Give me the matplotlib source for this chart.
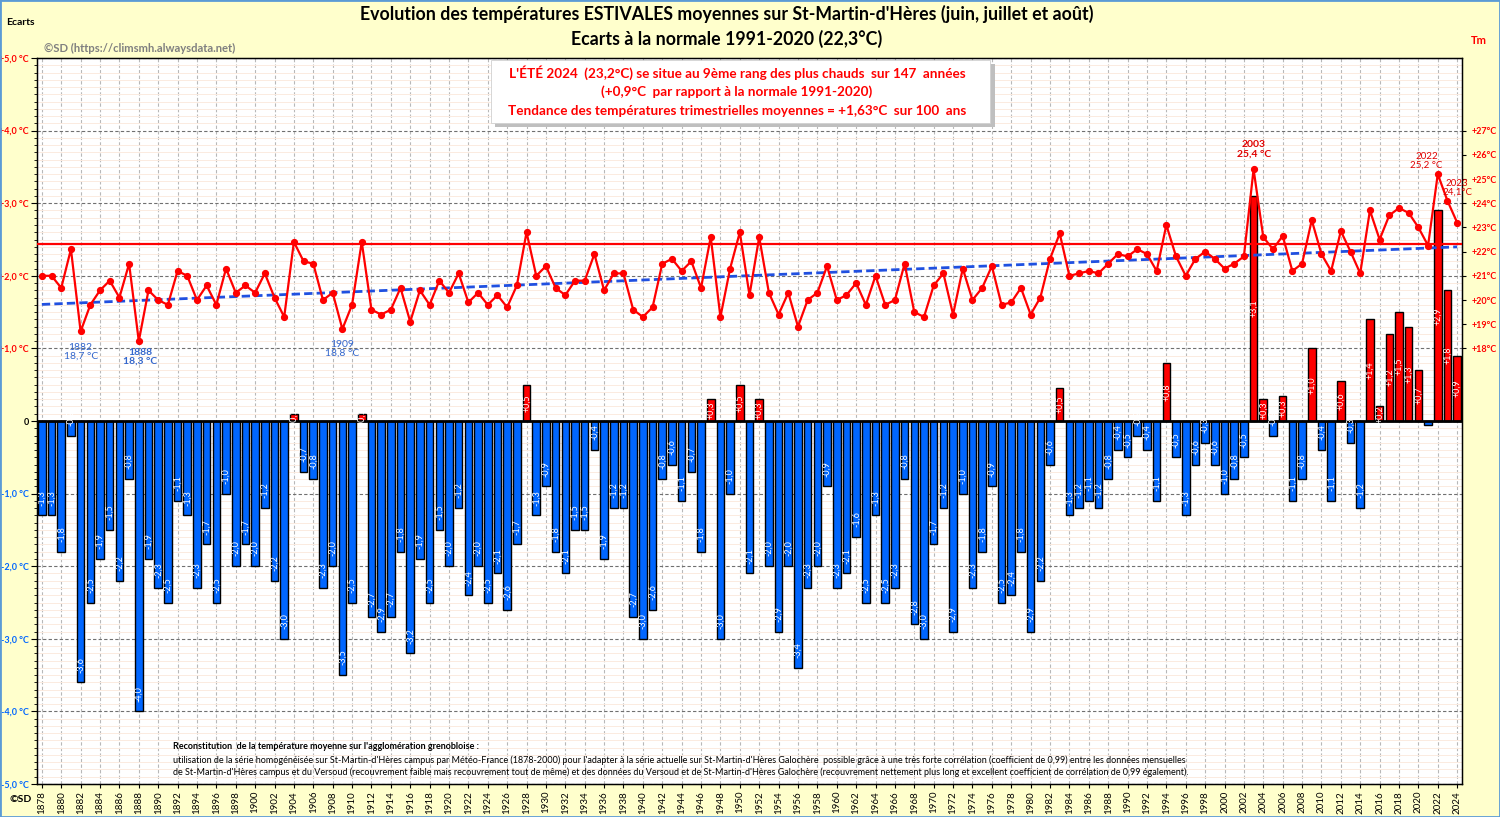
import matplotlib
matplotlib.use("Agg")
import matplotlib.pyplot as plt
import matplotlib.patches as mpatches
from matplotlib.ticker import MultipleLocator
import numpy as np

plt.rcParams["font.family"] = ["Lato", "DejaVu Sans"]

NORMAL = 22.3
years = np.arange(1878, 2025)
anomalies = [
    -1.3, -1.3, -1.8, -0.2, -3.6, -2.5, -1.9, -1.5, -2.2, -0.8,   # 1878-1887
    -4.0, -1.9, -2.3, -2.5, -1.1, -1.3, -2.3, -1.7, -2.5, -1.0,   # 1888-1897
    -2.0, -1.7, -2.0, -1.2, -2.2, -3.0, 0.1, -0.7, -0.8, -2.3,    # 1898-1907
    -2.0, -3.5, -2.5, 0.1, -2.7, -2.9, -2.7, -1.8, -3.2, -1.9,    # 1908-1917
    -2.5, -1.5, -2.0, -1.2, -2.4, -2.0, -2.5, -2.1, -2.6, -1.7,   # 1918-1927
    0.5, -1.3, -0.9, -1.8, -2.1, -1.5, -1.5, -0.4, -1.9, -1.2,    # 1928-1937
    -1.2, -2.7, -3.0, -2.6, -0.8, -0.6, -1.1, -0.7, -1.8, 0.3,    # 1938-1947
    -3.0, -1.0, 0.5, -2.1, 0.3, -2.0, -2.9, -2.0, -3.4, -2.3,     # 1948-1957
    -2.0, -0.9, -2.3, -2.1, -1.6, -2.5, -1.3, -2.5, -2.3, -0.8,   # 1958-1967
    -2.8, -3.0, -1.7, -1.2, -2.9, -1.0, -2.3, -1.8, -0.9, -2.5,   # 1968-1977
    -2.4, -1.8, -2.9, -2.2, -0.6, 0.45, -1.3, -1.2, -1.1, -1.2,   # 1978-1987
    -0.8, -0.4, -0.5, -0.2, -0.4, -1.1, 0.8, -0.5, -1.3, -0.6,    # 1988-1997
    -0.3, -0.6, -1.0, -0.8, -0.5, 3.1, 0.3, -0.2, 0.35, -1.1,     # 1998-2007
    -0.8, 1.0, -0.4, -1.1, 0.55, -0.3, -1.2, 1.4, 0.2, 1.2,       # 2008-2017
    1.5, 1.3, 0.7, -0.05, 2.9, 1.8, 0.9,                          # 2018-2024
]
anomalies = np.array(anomalies)
tm = NORMAL + anomalies

left_ticks = [-5, -4, -3, -2, -1, 0, 1, 2, 3, 4, 5]
right_ticks = [18, 19, 20, 21, 22, 23, 24, 25, 26, 27]

BLUE = "#0066FF"
RED = "#FF0000"
BG = "#FFFFCC"

fig = plt.figure(figsize=(15, 8.17), dpi=100, facecolor=BG)
ax = fig.add_axes([0.02467, 0.04039, 0.95, 0.8886])
ax.set_facecolor("white")

# grids
ax.set_xlim(1877.5, 2024.5)
ax.set_ylim(-5, 5)
ax.yaxis.set_minor_locator(MultipleLocator(0.1))
ax.set_yticks(left_ticks)
ax.grid(which="minor", axis="y", color="#FBEBE0", lw=0.7, zorder=0)
ax.grid(which="major", axis="y", color="#707070", lw=0.8, ls=(0, (3, 2)), zorder=0)
ax.set_xticks(np.arange(1878, 2025, 2))
ax.grid(which="major", axis="x", color="#B8B8B8", lw=0.8, ls=(0, (3, 2)), zorder=0)
ax.set_axisbelow(True)

# bars
colors = [RED if v > 0 else BLUE for v in anomalies]
ax.bar(years, anomalies, width=0.78, color=colors, edgecolor="black", lw=1.0, zorder=2)
ax.axhline(0, color="black", lw=2, zorder=3)

for y, v in zip(years, anomalies):
    txt = f"{v:+.1f}".replace(".", ",")
    if abs(v) < 0.1:
        continue
    if v > 0:
        ax.text(y, v / 2, txt, rotation=90, ha="center", va="center",
                color="white", fontsize=6.5, zorder=4)
    else:
        ax.annotate(txt, xy=(y, v), xytext=(0, 7), textcoords="offset points",
                    rotation=90, ha="center", va="bottom", color="white",
                    fontsize=6.5, zorder=4)

# left tick labels
ylabels = []
for t in left_ticks:
    ylabels.append("0" if t == 0 else f"{t:+.1f} °C".replace(".", ","))
ax.set_yticklabels(ylabels, fontsize=6.5, fontweight="bold")
for lab, t in zip(ax.get_yticklabels(), left_ticks):
    lab.set_color("black" if t == 0 else (RED if t > 0 else BLUE))
ax.tick_params(axis="y", which="major", length=4, pad=2)
ax.tick_params(axis="y", which="minor", length=2)
ax.set_xticklabels([str(y) for y in range(1878, 2025, 2)], rotation=90, fontsize=7)
ax.tick_params(axis="x", length=3, pad=2)
for s in ax.spines.values():
    s.set_color("black")
    s.set_linewidth(1)

# temperature axis
ax2 = ax.twinx()
ax2.set_ylim(0, 30)
ax2.set_yticks(right_ticks)
ax2.set_yticklabels([f"+{t}°C" for t in right_ticks], fontsize=6.5, color=RED, fontweight="bold")
ax2.tick_params(axis="y", length=3, pad=4)
ax2.axhline(NORMAL, color=RED, lw=1.6, zorder=3)
coef = np.polyfit(years, tm, 1)
ax2.plot(years, np.polyval(coef, years), color="#2050E0", lw=2, ls=(0, (3, 1.5)), zorder=4)
ax2.plot(years, tm, color=RED, lw=1.6, marker="o", ms=4.2, zorder=5)

# annotations on extremes
def note(year, text, dx, dy, color, weight="normal", size=7.5, va="top"):
    i = int(year - years[0])
    ax2.annotate(text, xy=(year, tm[i]), xytext=(dx, dy), textcoords="offset points",
                 ha="center", va=va, color=color, fontsize=size, fontweight=weight,
                 linespacing=1.0, zorder=6)

note(1882, "1882\n18,7 °C", 0, -8, "#3366CC")
note(1888, "1888\n18,3 °C", 1, -5, "#3366CC", weight="bold")
note(1909, "1909\n18,8 °C", 0, -8, "#3366CC")
note(2003, "2003\n25,4 °C", 0, 8, "#E00000", weight="bold", va="bottom")
note(2022, "2022\n25,2 °C", -8, 3, "#E00000", size=7, va="bottom")
note(2023, "2023\n24,1°C", 7, 3, "#E00000", size=7, va="bottom")

# header texts
fig.text(0.4847, 0.983, "Evolution des températures ESTIVALES moyennes sur St-Martin-d'Hères (juin, juillet et août)",
         ha="center", va="center", fontsize=12.8, fontweight="bold")
fig.text(0.4847, 0.952, "Ecarts à la normale 1991-2020 (22,3°C)",
         ha="center", va="center", fontsize=12.8, fontweight="bold")
fig.text(0.004, 0.973, "Ecarts", ha="left", va="center", fontsize=7.5, fontweight="bold")
fig.text(0.986, 0.951, "Tm", ha="center", va="center", fontsize=8, fontweight="bold", color=RED)
fig.text(0.029, 0.941, "©SD (https://climsmh.alwaysdata.net)", ha="left", va="center",
         fontsize=8.1, fontweight="bold", color="#808080")
fig.text(0.006, 0.021, "©SD", ha="left", va="center", fontsize=7.5, fontweight="bold")

# info box
bx0, by0, bw, bh = 0.327, 0.849, 0.333, 0.078
fig.patches.append(mpatches.Rectangle((bx0 + 0.003, by0 - 0.005), bw, bh, transform=fig.transFigure,
                                      facecolor="#BFBFBF", edgecolor="none", zorder=6))
fig.patches.append(mpatches.Rectangle((bx0, by0), bw, bh, transform=fig.transFigure,
                                      facecolor="white", edgecolor="#D0D0D0", lw=0.6, zorder=7))
box_lines = [
    "L'ÉTÉ 2024  (23,2°C) se situe au 9ème rang des plus chauds  sur 147  années",
    "(+0,9°C  par rapport à la normale 1991-2020)",
    "Tendance des températures trimestrielles moyennes = +1,63°C  sur 100  ans",
]
for k, line in enumerate(box_lines):
    fig.text(0.4913, 0.911 - k * 0.0233, line, ha="center", va="center", fontsize=9.7,
             fontweight="bold", color=RED, zorder=8)

# footnote
foot = [
    "utilisation de la série homogénéisée sur St-Martin-d'Hères campus par Météo-France (1878-2000) pour l'adapter à la série actuelle sur St-Martin-d'Hères Galochère  possible grâce à une très forte corrélation (coefficient de 0,99) entre les données mensuelles",
    "de St-Martin-d'Hères campus et du Versoud (recouvrement faible mais recouvrement tout de même) et des données du Versoud et de St-Martin-d'Hères Galochère (recouvrement nettement plus long et excellent coefficient de corrélation de 0,99 également).",
]
fig.text(0.1155, 0.0857, "Reconstitution  de la température moyenne sur l'agglomération grenobloise :",
         ha="left", va="center", fontsize=6.45, fontweight="bold",
         family=["Liberation Sans Narrow", "Lato"])
for k, line in enumerate(foot):
    fig.text(0.1155, 0.0698 - k * 0.0147, line, ha="left", va="center", fontsize=6.45,
             family=["Liberation Sans Narrow", "Lato"])

fig.patches.append(mpatches.Rectangle((0, 0), 1, 1, transform=fig.transFigure, fill=False,
                                      edgecolor="#5B9BD5", lw=2, zorder=10))

fig.savefig("out.png", dpi=100, facecolor=fig.get_facecolor())
plt.close(fig)
